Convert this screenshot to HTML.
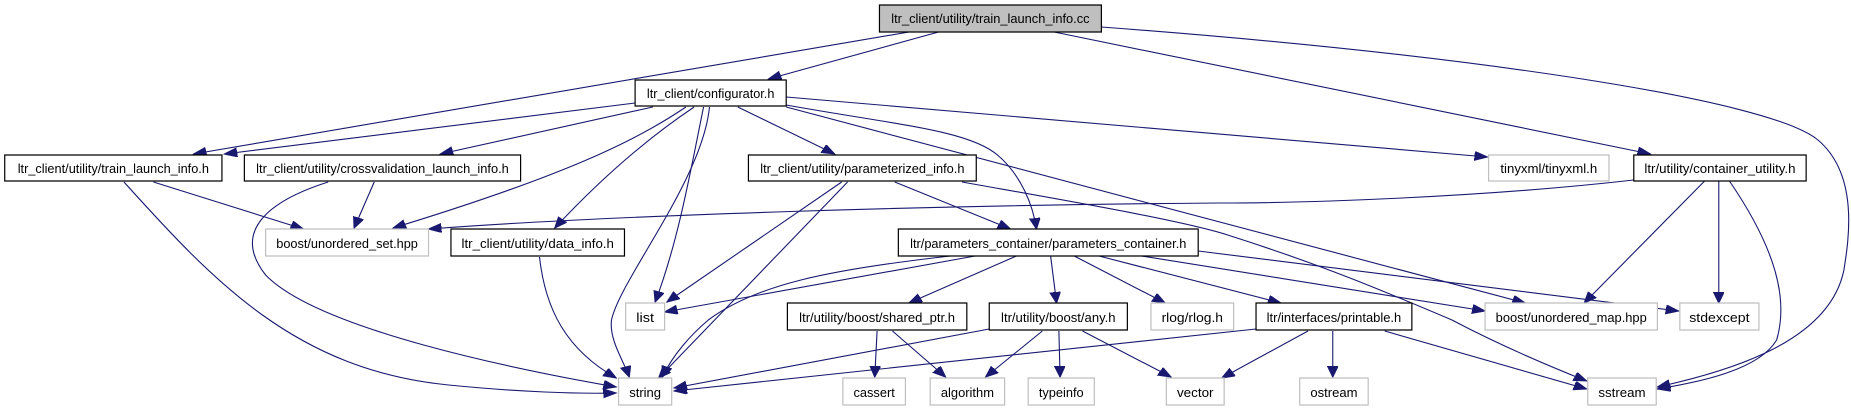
<!DOCTYPE html>
<html><head><meta charset="utf-8"><style>
html,body{margin:0;padding:0;background:#fff;}
svg{display:block;}
text{font-family:"Liberation Sans",Arial,sans-serif;font-size:12.5px;fill:#000;}
.e{fill:none;stroke:#191970;stroke-width:1.1;}
.n{fill:#fff;stroke:#000;stroke-width:1.2;}
.g{fill:#fff;stroke:#bfbfbf;stroke-width:1.2;}
</style></head><body>
<svg width="1851" height="411" viewBox="0 0 1568 411" preserveAspectRatio="none" xmlns="http://www.w3.org/2000/svg">
<defs>
<marker id="a" markerUnits="userSpaceOnUse" markerWidth="12" markerHeight="10" refX="11" refY="4.5" orient="auto">
<path d="M0,0 L11,4.5 L0,9 Z" fill="#191970" stroke="#191970"/>
</marker>
</defs>
<g marker-end="url(#a)">
<path class="e" vector-effect="non-scaling-stroke" d="M770,32 L164,154"/>
<path class="e" vector-effect="non-scaling-stroke" d="M795,32 L651,79"/>
<path class="e" vector-effect="non-scaling-stroke" d="M893,32 L1398,154"/>
<path class="e" vector-effect="non-scaling-stroke" d="M933,27 C1250,55 1500,100 1540,140 C1575,175 1566,240 1562,270 C1550,340 1470,370 1404,387"/>
<path class="e" vector-effect="non-scaling-stroke" d="M538,103 L190,154"/>
<path class="e" vector-effect="non-scaling-stroke" d="M553,107 L373,154"/>
<path class="e" vector-effect="non-scaling-stroke" d="M581,107 C540,140 480,175 333,228"/>
<path class="e" vector-effect="non-scaling-stroke" d="M588,107 C540,145 500,190 470,228"/>
<path class="e" vector-effect="non-scaling-stroke" d="M596,107 C585,170 575,240 555,302"/>
<path class="e" vector-effect="non-scaling-stroke" d="M601,107 C595,180 525,280 518,320 C516,340 528,360 533,377"/>
<path class="e" vector-effect="non-scaling-stroke" d="M625,107 L707,154"/>
<path class="e" vector-effect="non-scaling-stroke" d="M666,105 C760,125 820,130 845,155 C865,175 875,205 878,229"/>
<path class="e" vector-effect="non-scaling-stroke" d="M666,107 L1292,303"/>
<path class="e" vector-effect="non-scaling-stroke" d="M666,97 L1260,157"/>
<path class="e" vector-effect="non-scaling-stroke" d="M130,182 L257,229"/>
<path class="e" vector-effect="non-scaling-stroke" d="M105,182 C180,280 250,370 380,385 C440,392 490,394 522,393"/>
<path class="e" vector-effect="non-scaling-stroke" d="M317,182 L300,228"/>
<path class="e" vector-effect="non-scaling-stroke" d="M278,182 C230,200 195,230 225,275 C270,330 440,370 522,387"/>
<path class="e" vector-effect="non-scaling-stroke" d="M457,257 C462,310 480,350 522,378"/>
<path class="e" vector-effect="non-scaling-stroke" d="M1384,180 C1250,198 1100,203 1033,203 C800,205 520,215 363,229"/>
<path class="e" vector-effect="non-scaling-stroke" d="M1444,181 L1342,303"/>
<path class="e" vector-effect="non-scaling-stroke" d="M1456,181 L1456,303"/>
<path class="e" vector-effect="non-scaling-stroke" d="M1465,181 C1505,250 1515,300 1505,340 C1490,370 1440,382 1404,389"/>
<path class="e" vector-effect="non-scaling-stroke" d="M713,182 L565,302"/>
<path class="e" vector-effect="non-scaling-stroke" d="M718,182 L558,378"/>
<path class="e" vector-effect="non-scaling-stroke" d="M758,182 L856,229"/>
<path class="e" vector-effect="non-scaling-stroke" d="M815,182 C900,200 1000,220 1040,235 C1120,265 1170,290 1230,320 C1270,345 1310,365 1344,381"/>
<path class="e" vector-effect="non-scaling-stroke" d="M826,256 L563,312"/>
<path class="e" vector-effect="non-scaling-stroke" d="M805,256 C700,270 640,285 600,320 C585,335 570,355 561,377"/>
<path class="e" vector-effect="non-scaling-stroke" d="M861,256 L770,303"/>
<path class="e" vector-effect="non-scaling-stroke" d="M890,256 L895,303"/>
<path class="e" vector-effect="non-scaling-stroke" d="M910,256 L987,303"/>
<path class="e" vector-effect="non-scaling-stroke" d="M931,256 L1085,303"/>
<path class="e" vector-effect="non-scaling-stroke" d="M967,256 L1258,311"/>
<path class="e" vector-effect="non-scaling-stroke" d="M1015,251 L1422,311"/>
<path class="e" vector-effect="non-scaling-stroke" d="M743,331 L741,377"/>
<path class="e" vector-effect="non-scaling-stroke" d="M756,331 L801,377"/>
<path class="e" vector-effect="non-scaling-stroke" d="M838,329 L571,388"/>
<path class="e" vector-effect="non-scaling-stroke" d="M883,331 L835,377"/>
<path class="e" vector-effect="non-scaling-stroke" d="M897,331 L898,377"/>
<path class="e" vector-effect="non-scaling-stroke" d="M917,331 L992,377"/>
<path class="e" vector-effect="non-scaling-stroke" d="M1064,329 L571,391"/>
<path class="e" vector-effect="non-scaling-stroke" d="M1108,331 L1035,378"/>
<path class="e" vector-effect="non-scaling-stroke" d="M1129,331 L1129,377"/>
<path class="e" vector-effect="non-scaling-stroke" d="M1173,331 L1344,389"/>
</g>
<g>
<rect x="745" y="5" width="188" height="27" fill="#bfbfbf" stroke="#000" stroke-width="1.2" vector-effect="non-scaling-stroke"/>
<text x="755" y="23" textLength="168" lengthAdjust="spacingAndGlyphs">ltr_client/utility/train_launch_info.cc</text>

<rect class="n" vector-effect="non-scaling-stroke" x="538" y="80" width="128" height="26"/>
<text x="548" y="98" textLength="108" lengthAdjust="spacingAndGlyphs">ltr_client/configurator.h</text>

<rect class="n" vector-effect="non-scaling-stroke" x="4" y="155" width="184" height="26"/>
<text x="15" y="173" textLength="162" lengthAdjust="spacingAndGlyphs">ltr_client/utility/train_launch_info.h</text>

<rect class="n" vector-effect="non-scaling-stroke" x="207" y="155" width="234" height="26"/>
<text x="217" y="173" textLength="214" lengthAdjust="spacingAndGlyphs">ltr_client/utility/crossvalidation_launch_info.h</text>

<rect class="n" vector-effect="non-scaling-stroke" x="634" y="155" width="193" height="26"/>
<text x="644" y="173" textLength="173" lengthAdjust="spacingAndGlyphs">ltr_client/utility/parameterized_info.h</text>

<rect class="g" vector-effect="non-scaling-stroke" x="1261" y="155" width="102" height="26"/>
<text x="1271" y="173" textLength="82" lengthAdjust="spacingAndGlyphs">tinyxml/tinyxml.h</text>

<rect class="n" vector-effect="non-scaling-stroke" x="1384" y="155" width="146" height="26"/>
<text x="1393" y="173" textLength="128" lengthAdjust="spacingAndGlyphs">ltr/utility/container_utility.h</text>

<rect class="g" vector-effect="non-scaling-stroke" x="225" y="229" width="138" height="27"/>
<text x="234" y="248" textLength="120" lengthAdjust="spacingAndGlyphs">boost/unordered_set.hpp</text>

<rect class="n" vector-effect="non-scaling-stroke" x="382" y="229" width="147" height="27"/>
<text x="391" y="248" textLength="129" lengthAdjust="spacingAndGlyphs">ltr_client/utility/data_info.h</text>

<rect class="n" vector-effect="non-scaling-stroke" x="761" y="229" width="254" height="27"/>
<text x="771" y="248" textLength="234" lengthAdjust="spacingAndGlyphs">ltr/parameters_container/parameters_container.h</text>

<rect class="g" vector-effect="non-scaling-stroke" x="530" y="303" width="33" height="27"/>
<text x="539" y="322" textLength="15" lengthAdjust="spacingAndGlyphs">list</text>

<rect class="n" vector-effect="non-scaling-stroke" x="667" y="303" width="152" height="27"/>
<text x="677" y="322" textLength="132" lengthAdjust="spacingAndGlyphs">ltr/utility/boost/shared_ptr.h</text>

<rect class="n" vector-effect="non-scaling-stroke" x="838" y="303" width="117" height="27"/>
<text x="848" y="322" textLength="97" lengthAdjust="spacingAndGlyphs">ltr/utility/boost/any.h</text>

<rect class="g" vector-effect="non-scaling-stroke" x="975" y="303" width="70" height="27"/>
<text x="984" y="322" textLength="52" lengthAdjust="spacingAndGlyphs">rlog/rlog.h</text>

<rect class="n" vector-effect="non-scaling-stroke" x="1064" y="303" width="132" height="27"/>
<text x="1073" y="322" textLength="114" lengthAdjust="spacingAndGlyphs">ltr/interfaces/printable.h</text>

<rect class="g" vector-effect="non-scaling-stroke" x="1258" y="303" width="146" height="27"/>
<text x="1267" y="322" textLength="128" lengthAdjust="spacingAndGlyphs">boost/unordered_map.hpp</text>

<rect class="g" vector-effect="non-scaling-stroke" x="1423" y="303" width="67" height="27"/>
<text x="1431" y="322" textLength="51" lengthAdjust="spacingAndGlyphs">stdexcept</text>

<rect class="g" vector-effect="non-scaling-stroke" x="524" y="378" width="45" height="27"/>
<text x="533" y="397" textLength="27" lengthAdjust="spacingAndGlyphs">string</text>

<rect class="g" vector-effect="non-scaling-stroke" x="714" y="378" width="53" height="27"/>
<text x="723" y="397" textLength="35" lengthAdjust="spacingAndGlyphs">cassert</text>

<rect class="g" vector-effect="non-scaling-stroke" x="788" y="378" width="63" height="27"/>
<text x="797" y="397" textLength="45" lengthAdjust="spacingAndGlyphs">algorithm</text>

<rect class="g" vector-effect="non-scaling-stroke" x="871" y="378" width="56" height="27"/>
<text x="880" y="397" textLength="38" lengthAdjust="spacingAndGlyphs">typeinfo</text>

<rect class="g" vector-effect="non-scaling-stroke" x="988" y="378" width="49" height="27"/>
<text x="997" y="397" textLength="31" lengthAdjust="spacingAndGlyphs">vector</text>

<rect class="g" vector-effect="non-scaling-stroke" x="1101" y="378" width="58" height="27"/>
<text x="1110" y="397" textLength="40" lengthAdjust="spacingAndGlyphs">ostream</text>

<rect class="g" vector-effect="non-scaling-stroke" x="1345" y="378" width="58" height="27"/>
<text x="1354" y="397" textLength="40" lengthAdjust="spacingAndGlyphs">sstream</text>
</g>
</svg>
</body></html>
